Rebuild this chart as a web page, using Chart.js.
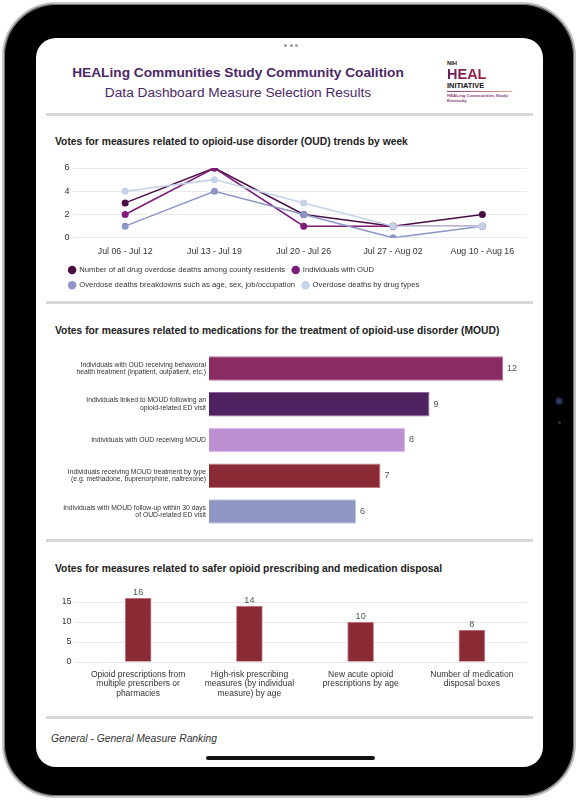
<!DOCTYPE html>
<html lang="en">
<head>
<meta charset="UTF-8">
<title>HEALing Communities Study - Measure Selection Results</title>
<script src="https://cdn.jsdelivr.net/npm/chart.js"></script>
<style>
  html, body { margin: 0; padding: 0; }
  body {
    width: 578px; height: 800px; position: relative; overflow: hidden;
    background: #fff; font-family: "Liberation Sans", Arial, sans-serif; color: #222;
  }
  .frame {
    position: absolute; left: 2px; top: 2px; width: 570px; height: 792px;
    border: 2px solid #c4c4c4; border-radius: 54px; background: #000;
    box-shadow: inset 0 0 0 1px #777;
  }
  .screen {
    position: absolute; left: 36px; top: 38px; width: 507px; height: 729px;
    background: #fff; border-radius: 20px;
  }
  .abs { position: absolute; }
  .dots { display: flex; gap: 2.5px; }
  .dots span { width: 3px; height: 3px; border-radius: 50%; background: #9a9a9a; }
  .title { left: 0; width: 476px; text-align: center; color: #4b2767; font-size: 13.7px; line-height: 16px; white-space: nowrap; }
  .sep { left: 46px; width: 487px; height: 3px; background: #d8d8d8; }
  .section { left: 55px; font-size: 10.3px; line-height: 12px; font-weight: bold; color: #222; white-space: nowrap; }
  .chart { left: 46px; width: 490px; }
  .logo div { position: absolute; left: 447px; white-space: nowrap; font-weight: bold; line-height: 1; }
</style>
</head>
<body>
  <div class="frame"></div>
  <div class="screen"></div>
  <div class="abs" style="left:555px;top:397px;width:8px;height:8px;border-radius:50%;background:radial-gradient(circle,#3a4a8c 0,#1a1d2e 60%,#0a0a0a 100%);"></div>
  <div class="abs" style="left:558px;top:421px;width:3px;height:3px;border-radius:50%;background:#333;"></div>

  <div class="abs dots" style="left:284px;top:44px;"><span></span><span></span><span></span></div>

  <div class="abs title" style="top:65.3px;font-weight:bold;">HEALing Communities Study Community Coalition</div>
  <div class="abs title" style="top:85.3px;">Data Dashboard Measure Selection Results</div>

  <div class="logo">
    <div style="top:61.3px;font-size:5.8px;color:#111;">NIH</div>
    <div style="top:66.6px;font-size:14.5px;background:linear-gradient(90deg,#6a1f5e,#a3243b);-webkit-background-clip:text;background-clip:text;color:transparent;">HEAL</div>
    <div style="top:81.7px;font-size:7.4px;color:#111;">INITIATIVE</div>
    <div style="top:90.5px;width:65px;height:1.6px;background:linear-gradient(90deg,#8b3a7a,#e8a48a);"></div>
    <div style="top:94.2px;font-size:4.4px;color:#8b3a7a;">HEALing Communities Study</div>
    <div style="top:98.6px;font-size:4.4px;color:#8b3a7a;">Kentucky</div>
  </div>

  <div class="abs sep" style="top:113px;"></div>
  <div class="abs section" style="top:136.4px;">Votes for measures related to opioid-use disorder (OUD) trends by week</div>
  <div class="abs chart" style="top:155px;height:144px;"><canvas id="trendChart"></canvas></div>

  <div class="abs sep" style="top:301px;"></div>
  <div class="abs section" style="top:325px;">Votes for measures related to medications for the treatment of opioid-use disorder (MOUD)</div>
  <div class="abs chart" style="top:340px;height:200px;"><canvas id="moudChart"></canvas></div>

  <div class="abs sep" style="top:539px;"></div>
  <div class="abs section" style="top:563.4px;">Votes for measures related to safer opioid prescribing and medication disposal</div>
  <div class="abs chart" style="top:580px;height:130px;"><canvas id="prescribingChart"></canvas></div>

  <div class="abs sep" style="top:716px;"></div>
  <div class="abs" style="left:51px;top:732px;font-size:10.3px;line-height:13px;font-style:italic;color:#333;">General - General Measure Ranking</div>

  <div class="abs" style="left:206px;top:756px;width:169px;height:4px;border-radius:2px;background:#111;"></div>

  <script>
    // OUD trends by week
    const weekLabels = ['Jul 06 - Jul 12', 'Jul 13 - Jul 19', 'Jul 20 - Jul 26', 'Jul 27 - Aug 02', 'Aug 10 - Aug 16'];
    const overdoseDeaths = [3, 6, 2, 1, 2];
    const individualsOud = [2, 6, 1, 1, 1];
    const deathBreakdowns = [1, 4, 2, 0, 1];
    const deathsByDrug = [4, 5, 3, 1, 1];

    // MOUD
    const moudLabels = [
      ['Individuals with OUD receiving behavioral', 'health treatment (inpatient, outpatient, etc.)'],
      ['Individuals linked to MOUD following an', 'opioid-related ED visit'],
      'Individuals with OUD receiving MOUD',
      ['Individuals receiving MOUD treatment by type', '(e.g. methadone, buprenorphine, naltrexone)'],
      ['Individuals with MOUD follow-up within 30 days', 'of OUD-related ED visit']
    ];
    const moudVotes = [12, 9, 8, 7, 6];
    const moudColors = ['#8b2b63', '#4f235f', '#bc90d1', '#8a2a35', '#8e96c4'];
    const moudBorders = ['#b86f98', '#8a6a98', '#dcc0ea', '#c27a84', '#c0c6e6'];

    // safer prescribing
    const prescribingLabels = [
      ['Opioid prescriptions from', 'multiple prescribers or', 'pharmacies'],
      ['High-risk prescribing', 'measures (by individual', 'measure) by age'],
      ['New acute opioid', 'prescriptions by age'],
      ['Number of medication', 'disposal boxes']
    ];
    const prescribingVotes = [16, 14, 10, 8];

    Chart.defaults.font.family = '"Liberation Sans", Arial, sans-serif';
    Chart.defaults.color = '#333';
    Chart.defaults.animation = false;
    Chart.defaults.maintainAspectRatio = false;
    Chart.defaults.plugins.tooltip.enabled = false;

    // writes the vote count next to each bar
    const valueLabels = {
      id: 'valueLabels',
      afterDatasetsDraw(chart) {
        const ctx = chart.ctx;
        const horizontal = chart.options.indexAxis === 'y';
        chart.getDatasetMeta(0).data.forEach((bar, i) => {
          ctx.save();
          ctx.fillStyle = '#555';
          ctx.font = '9px "Liberation Sans", Arial, sans-serif';
          const v = chart.data.datasets[0].data[i];
          if (horizontal) {
            ctx.textAlign = 'left';
            ctx.textBaseline = 'middle';
            ctx.fillText(v, bar.x + 4, bar.y);
          } else {
            ctx.textAlign = 'center';
            ctx.textBaseline = 'bottom';
            ctx.fillText(v, bar.x, bar.y - 1);
          }
          ctx.restore();
        });
      }
    };

    const line = (label, data, color, order) => ({
      label: label, data: data, borderColor: color, backgroundColor: color, order: order
    });

    new Chart(document.getElementById('trendChart'), {
      type: 'line',
      data: {
        labels: weekLabels,
        datasets: [
          line('Number of all drug overdose deaths among county residents', overdoseDeaths, '#4a0e45', 4),
          line('Individuals with OUD', individualsOud, '#7e1b7b', 3),
          line('Overdose deaths breakdowns such as age, sex, job/occupation', deathBreakdowns, '#8e96c8', 2),
          line('Overdose deaths by drug types', deathsByDrug, '#c5d2e8', 1)
        ]
      },
      options: {
        layout: { padding: { left: 15.5, right: 9, top: 13, bottom: 0 } },
        elements: {
          line: { borderWidth: 1.5, tension: 0 },
          point: { radius: 3.5, borderWidth: 0 }
        },
        scales: {
          x: {
            offset: true,
            grid: { display: false, drawTicks: false },
            border: { display: false },
            ticks: { font: { size: 8.8 }, padding: 8 },
            afterFit: s => { s.height = 21; }
          },
          y: {
            min: 0, max: 6,
            ticks: { stepSize: 2, font: { size: 9 }, padding: 3 },
            grid: { color: '#ebebeb', tickLength: 8 },
            border: { display: false },
            afterFit: s => { s.width = 19; }
          }
        },
        plugins: {
          legend: {
            position: 'bottom',
            align: 'start',
            labels: {
              usePointStyle: true, pointStyle: 'circle',
              boxWidth: 6.4, boxHeight: 6, padding: 7.4,
              font: { size: 7.7 }, color: '#333',
              sort: (a, b) => a.datasetIndex - b.datasetIndex
            }
          }
        }
      }
    });

    new Chart(document.getElementById('moudChart'), {
      type: 'bar',
      data: {
        labels: moudLabels,
        datasets: [{
          data: moudVotes,
          backgroundColor: moudColors,
          borderColor: moudBorders,
          borderWidth: 1,
          categoryPercentage: 1,
          barPercentage: 0.68
        }]
      },
      options: {
        indexAxis: 'y',
        layout: { padding: { left: 0, right: 33, top: 8.5, bottom: 5.5 } },
        scales: {
          x: { display: false, min: 0, max: 12 },
          y: {
            grid: { display: false, drawTicks: false },
            border: { display: false },
            ticks: { font: { size: 6.8, lineHeight: 1.12 }, padding: 3, color: '#333' },
            afterFit: s => { s.width = 163; }
          }
        },
        plugins: { legend: { display: false } }
      },
      plugins: [valueLabels]
    });

    new Chart(document.getElementById('prescribingChart'), {
      type: 'bar',
      data: {
        labels: prescribingLabels,
        datasets: [{
          data: prescribingVotes,
          backgroundColor: '#8a2a35',
          borderColor: '#c98a94',
          borderWidth: 1,
          barThickness: 26
        }]
      },
      options: {
        layout: { padding: { left: 17, right: 8.5, top: 18, bottom: 0 } },
        scales: {
          x: {
            grid: { display: false, drawTicks: false },
            border: { display: false },
            ticks: { font: { size: 8.5, lineHeight: 1.1 }, padding: 8, maxRotation: 0, autoSkip: false },
            afterFit: s => { s.height = 48; }
          },
          y: {
            min: 0, max: 16,
            ticks: { stepSize: 5, includeBounds: false, font: { size: 9 }, padding: 3 },
            grid: { color: '#ebebeb', tickLength: 8 },
            border: { display: false },
            afterFit: s => { s.width = 19.5; }
          }
        },
        plugins: { legend: { display: false } }
      },
      plugins: [valueLabels]
    });
  </script>
</body>
</html>
